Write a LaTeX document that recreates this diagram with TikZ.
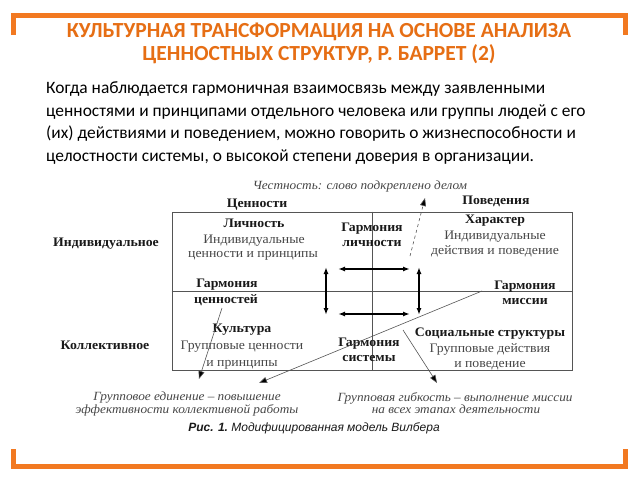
\documentclass[tikz,border=0pt]{standalone}
\usepackage{fontspec}
\setmainfont{Liberation Serif}
\newfontfamily\calib{Carlito}
\newfontfamily\dser[FakeStretch=1.06]{Liberation Serif}
\newfontfamily\arl{Liberation Sans}
\usetikzlibrary{arrows.meta}
\definecolor{brk}{RGB}{242,121,33}
\definecolor{ttl}{RGB}{230,110,20}
\definecolor{tg}{RGB}{70,70,70}
\definecolor{tb}{RGB}{25,25,25}
\definecolor{lg}{RGB}{85,85,85}
\tikzset{
  ttlst/.style={font=\calib\bfseries\fontsize{21.5}{23}\selectfont, text=ttl, inner sep=0, anchor=base},
  parast/.style={font=\calib\fontsize{17.4}{20}\selectfont, text=black, inner sep=0, anchor=base west},
  db/.style={font=\dser\bfseries\fontsize{13}{15}\selectfont, text=tb, inner sep=0, anchor=base},
  dr/.style={font=\dser\fontsize{13}{15}\selectfont, text=tg, inner sep=0, anchor=base},
  di/.style={font=\dser\itshape\fontsize{12.5}{14}\selectfont, text=tg, inner sep=0, anchor=base},
  capst/.style={font=\arl\itshape\fontsize{12}{14}\selectfont, text=tb, inner sep=0, anchor=base},
  dbl/.style={line width=1.6pt, {Latex[length=7pt,width=5pt]}-{Latex[length=7pt,width=5pt]}},
  thinarr/.style={lg, line width=0.6pt, -{Triangle[length=8pt,width=6pt,fill=black]}},
}
\begin{document}
\begin{tikzpicture}[x=1pt,y=-1pt]
\useasboundingbox (0,0) rectangle (638,479);
\fill[white] (0,0) rectangle (638,479);
% brackets
\draw[brk, line width=5pt, line join=miter] (13,35) -- (13,15) -- (625,15) -- (625,35);
\draw[brk, line width=5pt, line join=miter] (13,449) -- (13,466) -- (625,466) -- (625,449);
% title
\node[ttlst] (t1) at (319,37) {КУЛЬТУРНАЯ ТРАНСФОРМАЦИЯ НА ОСНОВЕ АНАЛИЗА};
\node[ttlst] (t2) at (319,60) {ЦЕННОСТНЫХ СТРУКТУР, Р. БАРРЕТ (2)};
% paragraph
\node[parast] (p1) at (46,93.5) {Когда наблюдается гармоничная взаимосвязь между заявленными};
\node[parast] (p2) at (46,116) {ценностями и принципами отдельного человека или группы людей с его};
\node[parast] (p3) at (46,138.5) {(их) действиями и поведением, можно говорить о жизнеспособности и};
\node[parast] (p4) at (46,161) {целостности системы, о высокой степени доверия в организации.};
% frame
\node[draw=lg, line width=1pt, minimum width=400pt, minimum height=158pt, inner sep=0] (frame) at (372,291) {};
\draw[lg, line width=0.9pt] (frame.north) -- (frame.south);
\draw[lg, line width=0.9pt] (frame.west) -- (frame.east);
% top labels
\node[di] (hon) at (360,189) {Честность: слово подкреплено делом};
\node[db] (cen) at (257,207) {Ценности};
\node[db] (pov) at (496,204) {Поведения};
% quadrant UL
\node[db] (lich) at (254,227) {Личность};
\node[dr] (ul1) at (254,243) {Индивидуальные};
\node[dr] (ul2) at (253,257) {ценности и принципы};
\node[db] (ind) at (106,246) {Индивидуальное};
\node[db] (gc1) at (227,287) {Гармония};
\node[db] (gc2) at (226,303) {ценностей};
% center top
\node[db] (gl1) at (372,231) {Гармония};
\node[db] (gl2) at (372,246) {личности};
% quadrant UR
\node[db] (har) at (495,223) {Характер};
\node[dr] (ur1) at (495,239) {Индивидуальные};
\node[dr] (ur2) at (495,254) {действия и поведение};
\node[db] (gm1) at (525,289) {Гармония};
\node[db] (gm2) at (525,304) {миссии};
% quadrant LL
\node[db] (kol) at (105,349) {Коллективное};
\node[db] (kul) at (242,332) {Культура};
\node[dr] (ll1) at (242,349) {Групповые ценности};
\node[dr] (ll2) at (242,366) {и принципы};
% center bottom
\node[db] (gs1) at (369,346) {Гармония};
\node[db] (gs2) at (369,361) {системы};
% quadrant LR
\node[db] (soc) at (490,336) {Социальные структуры};
\node[dr] (lr1) at (490,352) {Групповые действия};
\node[dr] (lr2) at (490,367) {и поведение};
% bottom italic
\node[di] (b1) at (187,400) {Групповое единение – повышение};
\node[di] (b2) at (187,413) {эффективности коллективной работы};
\node[di] (b3) at (455,401) {Групповая гибкость – выполнение миссии};
\node[di] (b4) at (456,413) {на всех этапах деятельности};
\node[capst] (cap) at (314,431) {\bfseries Рис. 1.\mdseries\ Модифицированная модель Вилбера};
% double arrows
\coordinate (h1a) at (338,269); \coordinate (h1b) at (410,269);
\coordinate (h2a) at (338,314); \coordinate (h2b) at (410,314);
\coordinate (v1a) at (326,267); \coordinate (v1b) at (326,315);
\coordinate (v2a) at (419,267); \coordinate (v2b) at (419,315);
\draw[dbl] (h1a) -- (h1b);
\draw[dbl] (h2a) -- (h2b);
\draw[dbl] (v1a) -- (v1b);
\draw[dbl] (v2a) -- (v2b);
% thin arrows
\coordinate (d0) at (410,256); \coordinate (d1) at (425,198);
\draw[thinarr, dashed] (d0) -- (d1);
\coordinate (m0) at (482,291); \coordinate (m1) at (259,383);
\draw[thinarr] (m0) -- (m1);
\coordinate (c0) at (222,308); \coordinate (c1) at (199,379);
\draw[thinarr] (c0) -- (c1);
\coordinate (s0) at (403,330); \coordinate (s1) at (437,383);
\draw[thinarr] (s0) -- (s1);
\end{tikzpicture}
\end{document}
